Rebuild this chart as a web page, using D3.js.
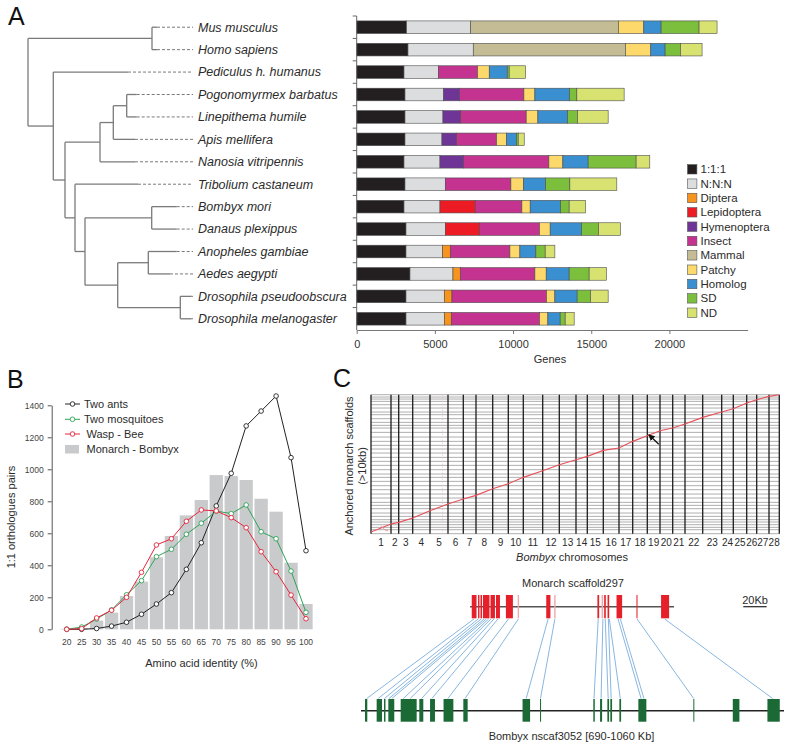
<!DOCTYPE html>
<html><head><meta charset="utf-8">
<script src="https://cdn.jsdelivr.net/npm/d3@7"></script>
<style>body{margin:0;background:#fff} svg text{font-family:"Liberation Sans",Arial,Helvetica,sans-serif}</style>
</head><body><svg id="c" width="800" height="749"></svg>
<script>
// ================= DATA =================
// Panel A
const species = ["Mus musculus","Homo sapiens","Pediculus h. humanus","Pogonomyrmex barbatus","Linepithema humile","Apis mellifera","Nanosia vitripennis","Tribolium castaneum","Bombyx mori","Danaus plexippus","Anopheles gambiae","Aedes aegypti","Drosophila pseudoobscura","Drosophila melanogaster"];
const categories = ["1:1:1","N:N:N","Diptera","Lepidoptera","Hymenoptera","Insect","Mammal","Patchy","Homolog","SD","ND"];
const one2one     = [3195,3280,3025,3089,3089,3089,3025,3089,3025,3153,3153,3408,3153,3153];
const nnn         = [4090,4175,2194,2470,2428,2364,2300,2577,2300,2513,2343,2748,2449,2449];
const diptera     = [0,0,0,0,0,0,0,0,0,0,489,468,490,447];
const lepidoptera = [0,0,0,0,0,0,0,0,2258,2194,0,0,0,0];
const hymenoptera = [0,0,0,1023,1129,937,1512,0,0,0,0,0,0,0];
const insect      = [0,0,2513,4111,4196,2556,5453,4196,2982,3834,3813,4772,6049,5645];
const mammal      = [9457,9734,0,0,0,0,0,0,0,0,0,0,0,0];
const patchy      = [1619,1619,745,703,745,639,895,809,532,681,639,724,533,532];
const homolog     = [1107,916,1151,2215,1896,639,1618,1406,1939,2003,1022,1469,1427,788];
const sd          = [2428,980,127,468,639,106,3068,1555,553,1086,597,1278,852,320];
const nd          = [1151,1384,1044,3025,1960,384,873,3003,1044,1406,618,1108,1129,575];
const geneTicks   = [0,5000,10000,15000,20000];
// phylogeny (branch lengths)
const tree = {len:0, children:[
  {len:1.24, children:[{name:"Mus musculus",len:0.05},{name:"Homo sapiens",len:0.05}]},
  {len:0.253, children:[
    {name:"Pediculus h. humanus", len:0.747},
    {len:0.117, children:[
      {len:0.35, children:[
        {len:0.133, children:[
          {len:0.134, children:[{name:"Pogonomyrmex barbatus",len:0.10},{name:"Linepithema humile",len:0.10}]},
          {name:"Apis mellifera", len:0.217}]},
        {name:"Nanosia vitripennis", len:0.35}]},
      {len:0.10, children:[
        {name:"Tribolium castaneum", len:0.63},
        {len:0.10, children:[
          {len:0.667, children:[{name:"Bombyx mori",len:0.25},{name:"Danaus plexippus",len:0.25}]},
          {len:0.327, children:[
            {len:0.306, children:[{name:"Anopheles gambiae",len:0.284},{name:"Aedes aegypti",len:0.217}]},
            {len:0.626, children:[{name:"Drosophila pseudoobscura",len:0.114},{name:"Drosophila melanogaster",len:0.114}]}
          ]}
        ]}
      ]}
    ]}
  ]}
]};

// Panel B
const identity       = [20,25,30,35,40,45,50,55,60,65,70,75,80,85,90,95,100];
const monarchBombyx  = [3,8,54,104,208,298,450,583,712,808,964,958,933,816,735,416,158];
const twoAnts        = [0,0,5,20,44,94,158,229,375,541,771,975,1271,1364,1458,1073,491];
const twoMosquitoes  = [0,14,64,121,216,304,454,500,594,663,739,723,777,610,566,364,106];
const waspBee        = [0,4,71,119,200,356,527,566,675,746,740,698,635,485,360,214,66];
const pairTicks      = [0,200,400,600,800,1000,1200,1400];

// Panel C dotplot
const chromosomes   = d3.range(1,29);
const chrSizes      = [20.0,7.7,14.0,17.3,18.0,15.3,12.7,16.7,15.6,15.0,19.4,16.6,16.7,11.3,16.0,15.7,13.7,14.6,12.7,12.7,12.3,17.7,19.0,11.6,13.4,10.0,12.3,10.3];
const scaffoldSizes = [12,7,8,8,7,10,10,13,10,9,13,12,13,12,13,12,10,13,13,12,12,13,12,11,12,13,14,13,8,9,11,12,8,12,10,10,7,6,7];
// monarch position of the syntenic trace at each Bombyx chromosome boundary
const traceMonarch  = [5,29,34,47,69,89,104,115,135,150,169,189,207,222,232,250,257,277,294,309,317,329,349,365,375,392,402,412,417];

// Panel C synteny
const monarchLen    = 175;   // kb
const monarchBlocks = [[1.5,5.6],[6.9,8.1],[9.0,10.3],[11.1,16.7],[17.6,21.4],[22.3,25.7],[30.8,36.8],[40.9,42.0],[65.4,69.0],[72.2,73.4],[109.3,110.8],[112.9,114.2],[115.1,116.5],[118.0,119.4],[125.7,130.5],[142.8,143.7],[163.9,170.8]];
const weakBlocks    = [7,9,11];
const bombyxRange   = [690,1060]; // kb
const bombyxBlocks  = [[693.5,695.5],[703.7,708.4],[710.1,711.4],[713.9,719.1],[724.7,738.7],[741,744.5],[750.4,754.7],[762.2,770.8],[779.5,783.3],[831.3,837.9],[846.6,847.5],[893.2,894.5],[899.1,900.9],[905.5,907],[908.1,909.6],[916,917.5],[932.6,939.6],[980.7,981.3],[1015.2,1021],[1045.5,1056.3]];
const linkMonarch   = [3.4,7.0,9.5,12,14,16,18,20.5,24,33,41.5,67,72.8,110,114,116,118.7,119.5,127,129,143.3,167];
const linkBombyx    = [695,705,710.5,714.5,717,727,733,743,752,766,781,834.5,847,893.8,900,906.2,908.8,916.8,935,937.5,981,1050];

// ================= DRAW =================
const svg = d3.select("#c");
const txt = "#2b2b2b";

// panel letters
[["A",8,25],["B",7,388],["C",333,387]].forEach(([t,x,y])=>
  svg.append("text").attr("x",x).attr("y",y).attr("font-size",25).attr("fill","#111").text(t));

// ---------- Panel A ----------
const colorA = d3.scaleOrdinal().domain(categories)
  .range(["#231f20","#dcdddf","#f7941d","#ed1c24","#6f3596","#c4338f","#c3bc94","#fdd96b","#3a8fd0","#7cbf3c","#d8e270"]);
const xA = d3.scaleLinear().domain([0,25000]).range([356.7,747.6]);
const yA = d3.scaleBand().domain(species).range([16,330]);
const barH = 12.6;
const seriesArrays = [one2one,nnn,diptera,lepidoptera,hymenoptera,insect,mammal,patchy,homolog,sd,nd];
const rows = species.map((s,i)=>{const o={species:s}; categories.forEach((c,k)=>o[c]=seriesArrays[k][i]); return o;});
const stacked = d3.stack().keys(categories)(rows);
const gA = svg.append("g");
stacked.forEach(layer=>{
  gA.selectAll(null).data(layer.filter(d=>d[1]-d[0]>0)).join("rect")
    .attr("x",d=>xA(d[0])).attr("width",d=>xA(d[1])-xA(d[0]))
    .attr("y",d=>yA(d.data.species)+(yA.bandwidth()-barH)/2).attr("height",barH)
    .attr("fill",colorA(layer.key)).attr("stroke","#4d4d4d").attr("stroke-width",0.6);
});
// y axis of bars
const yAxisA = gA.append("g");
yAxisA.append("line").attr("x1",xA(0)).attr("x2",xA(0)).attr("y1",yA.range()[0]).attr("y2",yA.range()[1]).attr("stroke","#666").attr("stroke-width",1);
yAxisA.selectAll(null).data(species).join("line")
  .attr("x1",xA(0)-4).attr("x2",xA(0)).attr("y1",d=>yA(d)).attr("y2",d=>yA(d)).attr("stroke","#666");
// x axis
const xAxA = gA.append("g").attr("transform","translate(0,330)")
  .call(d3.axisBottom(xA).tickValues(geneTicks).tickSize(4).tickSizeOuter(0).tickPadding(6).tickFormat(d3.format("d")));
xAxA.selectAll("path,line").attr("stroke","#777");
xAxA.selectAll("text").attr("font-size",11).attr("fill","#333");
gA.append("text").attr("x",550).attr("y",363).attr("text-anchor","middle").attr("font-size",11).attr("fill",txt).text("Genes");
// legend
const legA = gA.append("g");
categories.forEach((c,i)=>{
  const y = 169.3 + i*14.34;
  legA.append("rect").attr("x",687.5).attr("y",y-4.7).attr("width",9.4).attr("height",9.4).attr("fill",colorA(c)).attr("stroke","#555").attr("stroke-width",0.6);
  legA.append("text").attr("x",700.5).attr("y",y+4).attr("font-size",11.5).attr("fill",txt).text(c);
});
// tree
const root = d3.hierarchy(tree);
root.each(n=>{ n.cum = (n.parent? n.parent.cum:0) + n.data.len; });
const xT = d3.scaleLinear().domain([0,1]).range([28,128]);
const tipEnd = 193;
root.eachAfter(n=>{
  if(!n.children) n.yy = yA(n.data.name)+yA.bandwidth()/2;
  else n.yy = (n.children[0].yy + n.children[n.children.length-1].yy)/2;
});
const gT = svg.append("g").attr("stroke","#7a7a7a").attr("stroke-width",1.3).attr("fill","none");
root.each(n=>{
  if(n.parent) gT.append("line").attr("x1",xT(n.parent.cum)).attr("x2",xT(n.cum)).attr("y1",n.yy).attr("y2",n.yy);
  if(n.children) gT.append("line").attr("x1",xT(n.cum)).attr("x2",xT(n.cum))
     .attr("y1",n.children[0].yy).attr("y2",n.children[n.children.length-1].yy);
  if(!n.children){
    if(xT(n.cum) < tipEnd-1) gT.append("line").attr("x1",xT(n.cum)).attr("x2",tipEnd).attr("y1",n.yy).attr("y2",n.yy)
       .attr("stroke-dasharray","3,2").attr("stroke-width",1);
    svg.append("text").attr("x",198).attr("y",n.yy+4.3).attr("font-size",12.5).attr("font-style","italic")
       .attr("fill",txt).text(n.data.name);
  }
});

// ---------- Panel B ----------
const xB = d3.scaleLinear().domain([20,100]).range([66.7,306]);
const yB = d3.scaleLinear().domain([0,1400]).range([629.3,405.3]);
const barWB = 13.3;
const gB = svg.append("g");
gB.selectAll(null).data(identity).join("rect")
  .attr("x",(d)=>xB(d)-barWB/2).attr("width",barWB)
  .attr("y",(d,i)=>yB(monarchBombyx[i])).attr("height",(d,i)=>yB(0)-yB(monarchBombyx[i]))
  .attr("fill","#c9cacc");
const yAxB = gB.append("g").attr("transform","translate(51.7,0)")
  .call(d3.axisLeft(yB).tickValues(pairTicks).tickSize(4).tickSizeOuter(0).tickPadding(4).tickFormat(d3.format("d")));
yAxB.selectAll("path,line").attr("stroke","#555");
yAxB.selectAll("text").attr("font-size",8.5).attr("fill","#444");
gB.selectAll(null).data(identity).join("text")
  .attr("x",d=>xB(d)).attr("y",644.8).attr("text-anchor","middle").attr("font-size",8.5).attr("fill","#444").text(d=>d);
gB.append("text").attr("x",201.5).attr("y",667).attr("text-anchor","middle").attr("font-size",11).attr("fill",txt).text("Amino acid identity (%)");
gB.append("text").attr("transform","translate(15,517) rotate(-90)").attr("text-anchor","middle").attr("font-size",11).attr("fill",txt).text("1:1 orthologues pairs");
const seriesB = [["Two ants",twoAnts,"#222"],["Two mosquitoes",twoMosquitoes,"#2ea358"],["Wasp - Bee",waspBee,"#e8243c"]];
const lineB = d3.line().x((d,i)=>xB(identity[i])).y(d=>yB(d));
seriesB.forEach(([name,vals,col])=>{
  gB.append("path").datum(vals).attr("d",lineB).attr("fill","none").attr("stroke",col).attr("stroke-width",1);
  gB.selectAll(null).data(vals).join("circle").attr("cx",(d,i)=>xB(identity[i])).attr("cy",d=>yB(d))
    .attr("r",2.3).attr("fill","#fff").attr("stroke",col).attr("stroke-width",0.9);
});
// legend B
const legYs = [404,419.3,434,449];
seriesB.forEach(([name,vals,col],i)=>{
  const y = legYs[i];
  gB.append("line").attr("x1",65).attr("x2",80).attr("y1",y).attr("y2",y).attr("stroke",col);
  gB.append("circle").attr("cx",72.5).attr("cy",y).attr("r",2.3).attr("fill","#fff").attr("stroke",col).attr("stroke-width",0.9);
  gB.append("text").attr("x",i<2?84:86.5).attr("y",y+4).attr("font-size",11).attr("fill",txt).text(name);
});
gB.append("rect").attr("x",65).attr("y",445).attr("width",14).attr("height",8.5).attr("fill","#c9cacc");
gB.append("text").attr("x",86.5).attr("y",453).attr("font-size",11).attr("fill",txt).text("Monarch - Bombyx");

// ---------- Panel C: dotplot ----------
const chrCum = [0]; chrSizes.forEach(s=>chrCum.push(chrCum[chrCum.length-1]+s));
const scfCum = [0]; scaffoldSizes.forEach(s=>scfCum.push(scfCum[scfCum.length-1]+s));
const xC = d3.scaleLinear().domain([0,chrCum[chrCum.length-1]]).range([371,779.3]);
const yC = d3.scaleLinear().domain([0,scfCum[scfCum.length-1]]).range([533.7,394.7]);
const gC = svg.append("g");
gC.selectAll(null).data(scfCum).join("line")
  .attr("x1",xC.range()[0]).attr("x2",xC.range()[1]).attr("y1",d=>yC(d)).attr("y2",d=>yC(d))
  .attr("stroke","#9a9a9a").attr("stroke-width",0.8);
// faint dotted column of hits on chr 5
gC.append("line").attr("x1",xC(chrCum[4]+12.5)).attr("x2",xC(chrCum[4]+12.5)).attr("y1",yC.range()[0]).attr("y2",yC.range()[1])
  .attr("stroke","#f2b9b9").attr("stroke-width",0.8).attr("stroke-dasharray","1,2");
gC.selectAll(null).data(chrCum).join("line")
  .attr("x1",d=>xC(d)).attr("x2",d=>xC(d)).attr("y1",yC.range()[0]).attr("y2",yC.range()[1])
  .attr("stroke","#1c1c1c").attr("stroke-width",1.3);
// syntenic trace
gC.append("path").datum(traceMonarch)
  .attr("d",d3.line().x((d,i)=>xC(chrCum[i])).y(d=>yC(d)))
  .attr("fill","none").attr("stroke","#e8505a").attr("stroke-width",1.1);
gC.append("path").datum([[chrCum[0]+10,traceMonarch[0]+19],[chrCum[0]+14,traceMonarch[0]+6],[chrCum[0]+17,traceMonarch[0]+3]])
  .attr("d",d3.line().x(d=>xC(d[0])).y(d=>yC(d[1]))).attr("fill","none").attr("stroke","#ee8a90").attr("stroke-width",0.8);
// arrow
const arrowTip = [xC(chrCum[18])+1.5, yC(297)];
svg.append("defs").append("marker").attr("id","ah").attr("viewBox","0 0 10 10").attr("refX",9).attr("refY",5)
  .attr("markerWidth",5).attr("markerHeight",5).attr("orient","auto")
  .append("path").attr("d","M0,0 L10,5 L0,10 z").attr("fill","#111");
gC.append("line").attr("x1",arrowTip[0]+10).attr("y1",arrowTip[1]+9.5).attr("x2",arrowTip[0]).attr("y2",arrowTip[1])
  .attr("stroke","#111").attr("stroke-width",1.3).attr("marker-end","url(#ah)");
// labels
gC.selectAll(null).data(chromosomes).join("text")
  .attr("x",(d,i)=>xC((chrCum[i]+chrCum[i+1])/2)).attr("y",546.3).attr("text-anchor","middle")
  .attr("font-size",10).attr("fill",txt).text(d=>d);
const xl = gC.append("text").attr("x",572).attr("y",560.5).attr("text-anchor","middle").attr("font-size",11).attr("fill",txt);
xl.append("tspan").attr("font-style","italic").text("Bombyx");
xl.append("tspan").text(" chromosomes");
gC.append("text").attr("transform","translate(352.5,466) rotate(-90)").attr("text-anchor","middle").attr("font-size",11).attr("fill",txt).text("Anchored monarch scaffolds");
gC.append("text").attr("transform","translate(365.5,466) rotate(-90)").attr("text-anchor","middle").attr("font-size",11).attr("fill",txt).text("(>10kb)");

// ---------- Panel C: synteny ----------
const xM = d3.scaleLinear().domain([0,monarchLen]).range([470,674]);
const xBm = d3.scaleLinear().domain(bombyxRange).range([361,784]);
const gS = svg.append("g");
gS.append("text").attr("x",573).attr("y",587).attr("text-anchor","middle").attr("font-size",11).attr("fill",txt).text("Monarch scaffold297");
gS.append("text").attr("x",571.5).attr("y",740).attr("text-anchor","middle").attr("font-size",11).attr("fill",txt).text("Bombyx nscaf3052 [690-1060 Kb]");
// links
gS.selectAll(null).data(linkMonarch).join("line")
  .attr("x1",d=>xM(d)).attr("y1",619).attr("x2",(d,i)=>xBm(linkBombyx[i])).attr("y2",698.5)
  .attr("stroke","#6aa3d8").attr("stroke-width",0.8);
// backbones
gS.append("line").attr("x1",xM(0)).attr("x2",xM(monarchLen)).attr("y1",606.7).attr("y2",606.7).attr("stroke","#555").attr("stroke-width",1.6);
gS.append("line").attr("x1",xBm(bombyxRange[0])).attr("x2",xBm(bombyxRange[1])).attr("y1",710.7).attr("y2",710.7).attr("stroke","#222").attr("stroke-width",1.5);
gS.selectAll(null).data(monarchBlocks).join("rect")
  .attr("x",d=>xM(d[0])).attr("width",d=>xM(d[1])-xM(d[0])).attr("y",595).attr("height",23.3)
  .attr("fill",(d,i)=>weakBlocks.includes(i)?"#f0a7ab":"#e5202a");
gS.selectAll(null).data(bombyxBlocks).join("rect")
  .attr("x",d=>xBm(d[0])).attr("width",d=>Math.max(1,xBm(d[1])-xBm(d[0]))).attr("y",699).attr("height",22.7)
  .attr("fill","#1b6a36");
// scale bar 20 kb
gS.append("line").attr("x1",743.3).attr("x2",743.3+xM(20)-xM(0)).attr("y1",606.7).attr("y2",606.7).attr("stroke","#222").attr("stroke-width",1.2);
gS.append("text").attr("x",755).attr("y",604).attr("text-anchor","middle").attr("font-size",11).attr("fill",txt).text("20Kb");
</script></body></html>
